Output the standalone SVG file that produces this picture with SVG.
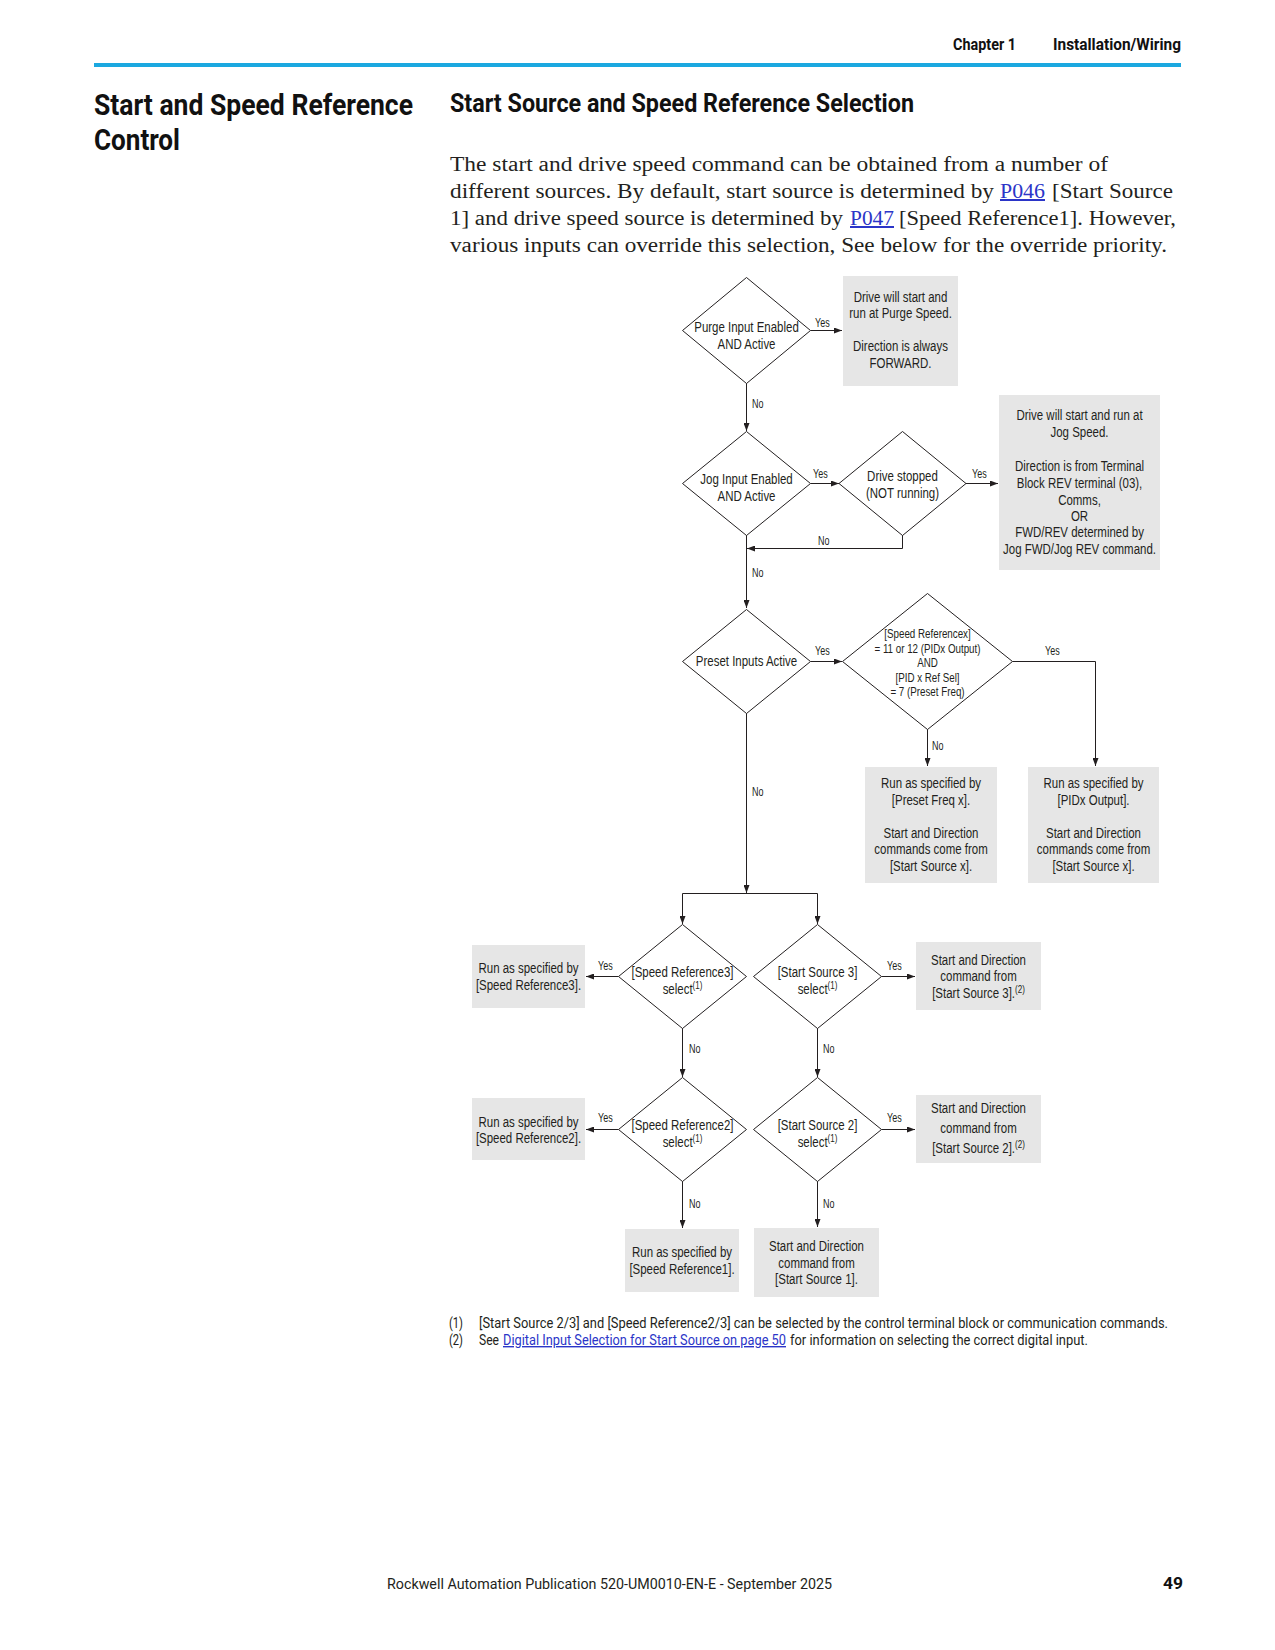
<svg xmlns="http://www.w3.org/2000/svg" width="1275" height="1650" viewBox="0 0 1275 1650">
<defs>
<style>
.d{font-family:"Liberation Sans",Arial,sans-serif;font-size:15px;fill:#231f20;text-anchor:middle}
.p{font-size:12.8px}
.l{font-family:"Liberation Sans",Arial,sans-serif;font-size:12px;fill:#231f20}
.sup{font-size:10.5px}
.box{fill:#e6e6e6}
.dia{fill:#fff;stroke:#231f20;stroke-width:1}
.c{fill:none;stroke:#231f20;stroke-width:1}
.h{font-family:Roboto,"Liberation Sans",sans-serif;font-weight:bold;fill:#111}
.b{font-family:"Liberation Serif",serif;font-size:20px;fill:#231f20}
.f{font-family:Roboto,"Liberation Sans",sans-serif;font-size:14px;fill:#231f20}
.lk{fill:#2b35c8;text-decoration:underline}
</style>
<marker id="a" viewBox="0 0 8 6" refX="8" refY="3" markerWidth="8" markerHeight="6" markerUnits="userSpaceOnUse" orient="auto"><path d="M0,0L8,3L0,6z" fill="#231f20"/></marker>
</defs>
<rect width="1275" height="1650" fill="#fff"/>

<g id="page-header">
<text class="h" x="953" y="50" font-size="17" textLength="63" lengthAdjust="spacingAndGlyphs" fill="#333">Chapter 1</text>
<text class="h" x="1053" y="50" font-size="17" textLength="128" lengthAdjust="spacingAndGlyphs" fill="#333">Installation/Wiring</text>
<rect x="94" y="63" width="1087" height="4" fill="#1ba8e0"/>
</g>

<g id="titles">
<text class="h" x="94" y="115" font-size="30" textLength="319" lengthAdjust="spacingAndGlyphs">Start and Speed Reference</text>
<text class="h" x="94" y="150" font-size="30" textLength="86" lengthAdjust="spacingAndGlyphs">Control</text>
<text class="h" x="450" y="112" font-size="25" textLength="464" lengthAdjust="spacingAndGlyphs">Start Source and Speed Reference Selection</text>
</g>

<g id="intro">
<text class="b" x="450" y="171" textLength="658" lengthAdjust="spacingAndGlyphs">The start and drive speed command can be obtained from a number of</text>
<text class="b" x="450" y="198" textLength="544" lengthAdjust="spacingAndGlyphs">different sources. By default, start source is determined by</text>
<text class="b lk" x="1000" y="198" textLength="45" lengthAdjust="spacingAndGlyphs">P046</text>
<text class="b" x="1052" y="198" textLength="121" lengthAdjust="spacingAndGlyphs">[Start Source</text>
<text class="b" x="450" y="225" textLength="393" lengthAdjust="spacingAndGlyphs">1] and drive speed source is determined by</text>
<text class="b lk" x="850" y="225" textLength="44" lengthAdjust="spacingAndGlyphs">P047</text>
<text class="b" x="899" y="225" textLength="277" lengthAdjust="spacingAndGlyphs">[Speed Reference1]. However,</text>
<text class="b" x="450" y="252" textLength="717" lengthAdjust="spacingAndGlyphs">various inputs can override this selection, See below for the override priority.</text>
</g>

<g id="connectors">
<path class="c" d="M810.5,330.5H842" marker-end="url(#a)"/>
<path class="c" d="M746.5,383V431" marker-end="url(#a)"/>
<path class="c" d="M810.5,483.5H839" marker-end="url(#a)"/>
<path class="c" d="M966,483.5H998" marker-end="url(#a)"/>
<path class="c" d="M902.5,535V548.5H747" marker-end="url(#a)"/>
<path class="c" d="M746.5,535V608" marker-end="url(#a)"/>
<path class="c" d="M810.5,661.5H842" marker-end="url(#a)"/>
<path class="c" d="M1012.5,661.5H1095.5V766" marker-end="url(#a)"/>
<path class="c" d="M927.5,729V766" marker-end="url(#a)"/>
<path class="c" d="M746.5,713V893" marker-end="url(#a)"/>
<path class="c" d="M682.5,923V893.5H817.5V923"/>
<path class="c" d="M682.5,900V924" marker-end="url(#a)"/>
<path class="c" d="M817.5,900V924" marker-end="url(#a)"/>
<path class="c" d="M618.5,976.5H586" marker-end="url(#a)"/>
<path class="c" d="M881.5,976.5H915" marker-end="url(#a)"/>
<path class="c" d="M682.5,1028V1077" marker-end="url(#a)"/>
<path class="c" d="M817.5,1028V1077" marker-end="url(#a)"/>
<path class="c" d="M618.5,1129.5H586" marker-end="url(#a)"/>
<path class="c" d="M881.5,1129.5H915" marker-end="url(#a)"/>
<path class="c" d="M682.5,1181V1228" marker-end="url(#a)"/>
<path class="c" d="M817.5,1181V1227" marker-end="url(#a)"/>
<text class="l" transform="translate(815 327) scale(.75 1)">Yes</text>
<text class="l" transform="translate(752 408) scale(.75 1)">No</text>
<text class="l" transform="translate(813 478) scale(.75 1)">Yes</text>
<text class="l" transform="translate(972 478) scale(.75 1)">Yes</text>
<text class="l" transform="translate(818 545) scale(.75 1)">No</text>
<text class="l" transform="translate(752 577) scale(.75 1)">No</text>
<text class="l" transform="translate(815 655) scale(.75 1)">Yes</text>
<text class="l" transform="translate(1045 655) scale(.75 1)">Yes</text>
<text class="l" transform="translate(932 750) scale(.75 1)">No</text>
<text class="l" transform="translate(752 796) scale(.75 1)">No</text>
<text class="l" transform="translate(598 970) scale(.75 1)">Yes</text>
<text class="l" transform="translate(887 970) scale(.75 1)">Yes</text>
<text class="l" transform="translate(689 1053) scale(.75 1)">No</text>
<text class="l" transform="translate(823 1053) scale(.75 1)">No</text>
<text class="l" transform="translate(598 1122) scale(.75 1)">Yes</text>
<text class="l" transform="translate(887 1122) scale(.75 1)">Yes</text>
<text class="l" transform="translate(689 1208) scale(.75 1)">No</text>
<text class="l" transform="translate(823 1208) scale(.75 1)">No</text>
</g>

<g id="purge">
<path class="dia" d="M746.5,277.5L810.5,330.5L746.5,383.5L682.5,330.5Z"/>
<g transform="translate(746.5 0) scale(.765 1)">
<text class="d" x="0" y="332">Purge Input Enabled</text>
<text class="d" x="0" y="349">AND Active</text>
</g>
</g>
<g id="purge-result">
<rect class="box" x="843" y="276" width="115" height="110"/>
<g transform="translate(900.5 0) scale(.765 1)">
<text class="d" x="0" y="302">Drive will start and</text>
<text class="d" x="0" y="318.5">run at Purge Speed.</text>
<text class="d" x="0" y="351">Direction is always</text>
<text class="d" x="0" y="368">FORWARD.</text>
</g>
</g>

<g id="jog">
<path class="dia" d="M746.5,431.5L810.5,483.5L746.5,535.5L682.5,483.5Z"/>
<g transform="translate(746.5 0) scale(.765 1)">
<text class="d" x="0" y="484">Jog Input Enabled</text>
<text class="d" x="0" y="501">AND Active</text>
</g>
</g>
<g id="drive-stopped">
<path class="dia" d="M902.5,431.5L966,483.5L902.5,535.5L839,483.5Z"/>
<g transform="translate(902.5 0) scale(.765 1)">
<text class="d" x="0" y="481">Drive stopped</text>
<text class="d" x="0" y="498">(NOT running)</text>
</g>
</g>
<g id="jog-result">
<rect class="box" x="999" y="395" width="161" height="175"/>
<g transform="translate(1079.5 0) scale(.765 1)">
<text class="d" x="0" y="420.5">Drive will start and run at</text>
<text class="d" x="0" y="437">Jog Speed.</text>
<text class="d" x="0" y="471">Direction is from Terminal</text>
<text class="d" x="0" y="488">Block REV terminal (03),</text>
<text class="d" x="0" y="505">Comms,</text>
<text class="d" x="0" y="521">OR</text>
<text class="d" x="0" y="537">FWD/REV determined by</text>
<text class="d" x="0" y="554">Jog FWD/Jog REV command.</text>
</g>
</g>

<g id="preset">
<path class="dia" d="M746.5,609.5L810.5,661.5L746.5,713.5L682.5,661.5Z"/>
<g transform="translate(746.5 0) scale(.765 1)">
<text class="d" x="0" y="666">Preset Inputs Active</text>
</g>
</g>
<g id="pid-check">
<path class="dia" d="M927.5,593.5L1012.5,661.5L927.5,729.5L842.5,661.5Z"/>
<g transform="translate(927.5 0) scale(.765 1)">
<text class="d p" x="0" y="638">[Speed Referencex]</text>
<text class="d p" x="0" y="653">= 11 or 12 (PIDx Output)</text>
<text class="d p" x="0" y="667">AND</text>
<text class="d p" x="0" y="682">[PID x Ref Sel]</text>
<text class="d p" x="0" y="696">= 7 (Preset Freq)</text>
</g>
</g>
<g id="preset-result">
<rect class="box" x="865" y="767" width="132" height="116"/>
<g transform="translate(931 0) scale(.765 1)">
<text class="d" x="0" y="788">Run as specified by</text>
<text class="d" x="0" y="805">[Preset Freq x].</text>
<text class="d" x="0" y="838">Start and Direction</text>
<text class="d" x="0" y="854">commands come from</text>
<text class="d" x="0" y="871">[Start Source x].</text>
</g>
</g>
<g id="pid-result">
<rect class="box" x="1028" y="767" width="131" height="116"/>
<g transform="translate(1093.5 0) scale(.765 1)">
<text class="d" x="0" y="788">Run as specified by</text>
<text class="d" x="0" y="805">[PIDx Output].</text>
<text class="d" x="0" y="838">Start and Direction</text>
<text class="d" x="0" y="854">commands come from</text>
<text class="d" x="0" y="871">[Start Source x].</text>
</g>
</g>

<g id="speed-ref3">
<path class="dia" d="M682.5,924.5L746.5,976.5L682.5,1028.5L618.5,976.5Z"/>
<g transform="translate(682.5 0) scale(.765 1)">
<text class="d" x="0" y="977.5">[Speed Reference3]</text>
<text class="d" x="0" y="994">select<tspan class="sup" dy="-5">(1)</tspan></text>
</g>
</g>
<g id="start-src3">
<path class="dia" d="M817.5,924.5L881.5,976.5L817.5,1028.5L753.5,976.5Z"/>
<g transform="translate(817.5 0) scale(.765 1)">
<text class="d" x="0" y="977.5">[Start Source 3]</text>
<text class="d" x="0" y="994">select<tspan class="sup" dy="-5">(1)</tspan></text>
</g>
</g>
<g id="speed-ref3-result">
<rect class="box" x="472" y="945" width="113" height="63"/>
<g transform="translate(528.5 0) scale(.765 1)">
<text class="d" x="0" y="973">Run as specified by</text>
<text class="d" x="0" y="990">[Speed Reference3].</text>
</g>
</g>
<g id="start-src3-result">
<rect class="box" x="916" y="942" width="125" height="68"/>
<g transform="translate(978.5 0) scale(.765 1)">
<text class="d" x="0" y="965">Start and Direction</text>
<text class="d" x="0" y="981">command from</text>
<text class="d" x="0" y="998">[Start Source 3].<tspan class="sup" dy="-5">(2)</tspan></text>
</g>
</g>

<g id="speed-ref2">
<path class="dia" d="M682.5,1077.5L746.5,1129.5L682.5,1181.5L618.5,1129.5Z"/>
<g transform="translate(682.5 0) scale(.765 1)">
<text class="d" x="0" y="1130">[Speed Reference2]</text>
<text class="d" x="0" y="1147">select<tspan class="sup" dy="-5">(1)</tspan></text>
</g>
</g>
<g id="start-src2">
<path class="dia" d="M817.5,1077.5L881.5,1129.5L817.5,1181.5L753.5,1129.5Z"/>
<g transform="translate(817.5 0) scale(.765 1)">
<text class="d" x="0" y="1130">[Start Source 2]</text>
<text class="d" x="0" y="1147">select<tspan class="sup" dy="-5">(1)</tspan></text>
</g>
</g>
<g id="speed-ref2-result">
<rect class="box" x="472" y="1098" width="113" height="62"/>
<g transform="translate(528.5 0) scale(.765 1)">
<text class="d" x="0" y="1127">Run as specified by</text>
<text class="d" x="0" y="1143.5">[Speed Reference2].</text>
</g>
</g>
<g id="start-src2-result">
<rect class="box" x="916" y="1095" width="125" height="68"/>
<g transform="translate(978.5 0) scale(.765 1)">
<text class="d" x="0" y="1113">Start and Direction</text>
<text class="d" x="0" y="1133">command from</text>
<text class="d" x="0" y="1153">[Start Source 2].<tspan class="sup" dy="-5">(2)</tspan></text>
</g>
</g>

<g id="speed-ref1-result">
<rect class="box" x="625" y="1229" width="114" height="63"/>
<g transform="translate(682 0) scale(.765 1)">
<text class="d" x="0" y="1257">Run as specified by</text>
<text class="d" x="0" y="1274">[Speed Reference1].</text>
</g>
</g>
<g id="start-src1-result">
<rect class="box" x="754" y="1228" width="125" height="69"/>
<g transform="translate(816.5 0) scale(.765 1)">
<text class="d" x="0" y="1251">Start and Direction</text>
<text class="d" x="0" y="1268">command from</text>
<text class="d" x="0" y="1284">[Start Source 1].</text>
</g>
</g>

<g id="footnotes">
<text class="f" x="449" y="1328" textLength="14" lengthAdjust="spacingAndGlyphs">(1)</text>
<text class="f" x="479" y="1328" textLength="689" lengthAdjust="spacingAndGlyphs">[Start Source 2/3] and [Speed Reference2/3] can be selected by the control terminal block or communication commands.</text>
<text class="f" x="449" y="1345" textLength="14" lengthAdjust="spacingAndGlyphs">(2)</text>
<text class="f" x="479" y="1345" textLength="20" lengthAdjust="spacingAndGlyphs">See</text>
<text class="f lk" x="503" y="1345" textLength="283" lengthAdjust="spacingAndGlyphs">Digital Input Selection for Start Source on page 50</text>
<text class="f" x="790" y="1345" textLength="298" lengthAdjust="spacingAndGlyphs">for information on selecting the correct digital input.</text>
</g>

<g id="page-footer">
<text class="f" x="387" y="1589" font-size="16" fill="#333" textLength="445" lengthAdjust="spacingAndGlyphs">Rockwell Automation Publication 520-UM0010-EN-E - September 2025</text>
<text class="h" x="1163" y="1589" font-size="16" fill="#333" textLength="20" lengthAdjust="spacingAndGlyphs">49</text>
</g>
</svg>
